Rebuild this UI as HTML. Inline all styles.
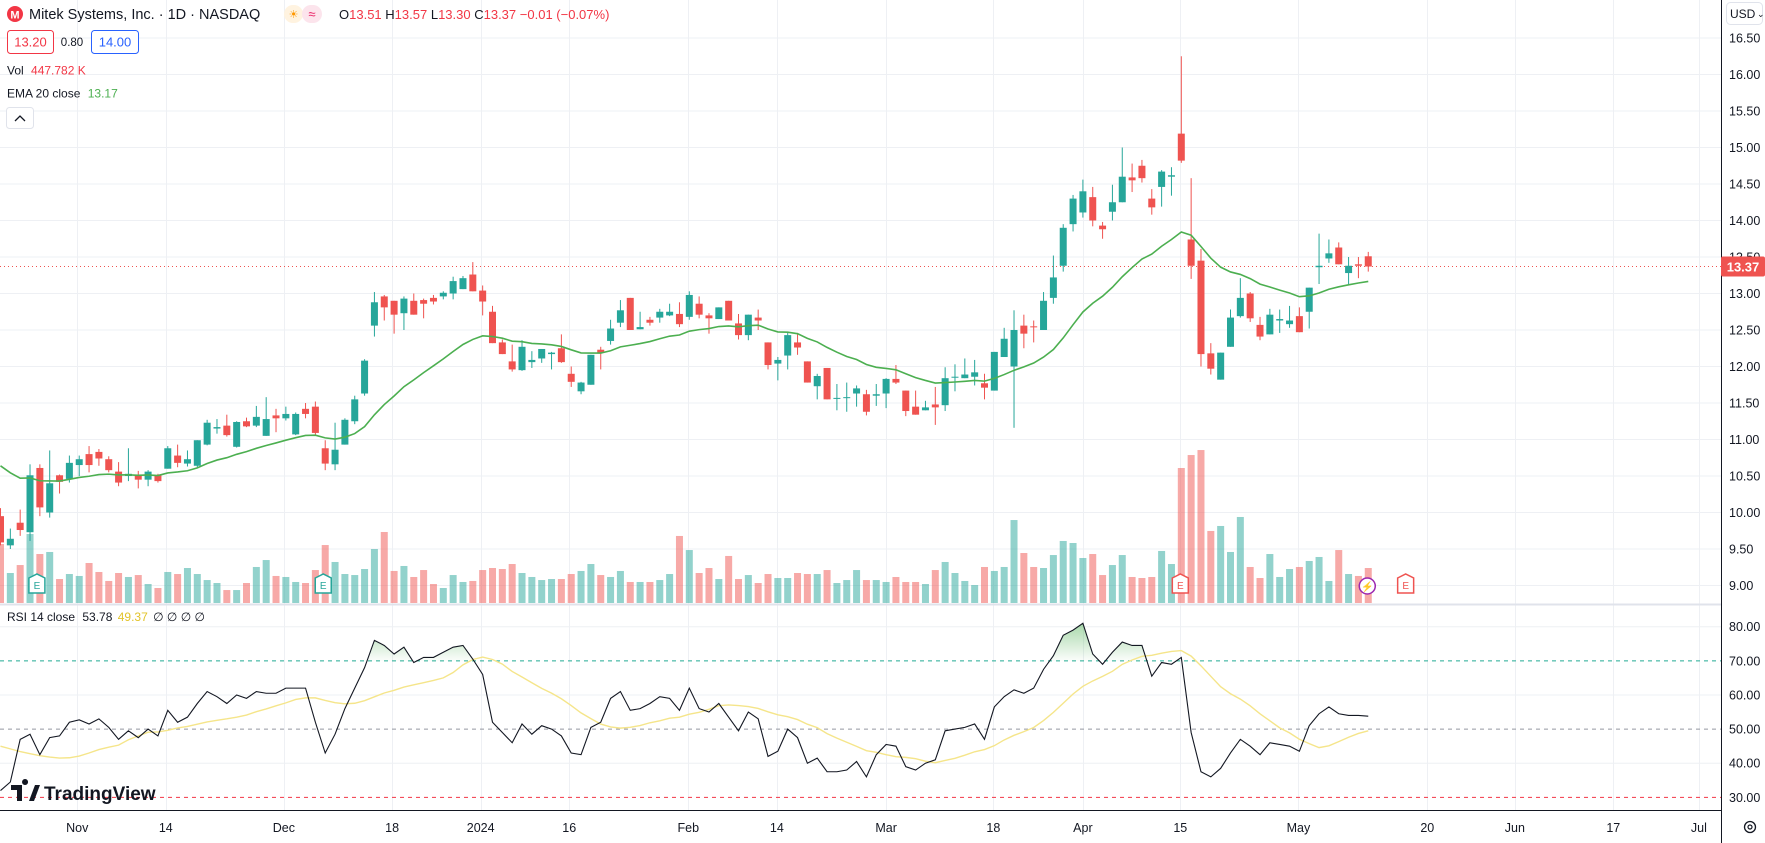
<!DOCTYPE html>
<html><head><meta charset="utf-8">
<style>
html,body{margin:0;padding:0;background:#fff;}
svg{display:block;font-family:"Liberation Sans",sans-serif;}
</style></head>
<body>
<svg id="chart" width="1765" height="843" viewBox="0 0 1765 843" xmlns="http://www.w3.org/2000/svg">
  <defs>
    <linearGradient id="obGrad" gradientUnits="userSpaceOnUse" x1="0" y1="626" x2="0" y2="661">
      <stop offset="0" stop-color="#4caf50" stop-opacity="0.45"/>
      <stop offset="1" stop-color="#4caf50" stop-opacity="0.02"/>
    </linearGradient>
  </defs>
  <rect x="0" y="0" width="1765" height="843" fill="#ffffff"/>
  <g id="grid"></g>
  <g id="volumeLayer"></g>
  <g id="candleLayer"></g>
  <g id="emaLayer"></g>
  <g id="rsiLayer"></g>
  <g id="axisLayer"></g>

  <g>
    <circle cx="15" cy="14" r="8" fill="#f23645"/>
    <text x="15" y="18.5" font-size="11" font-weight="bold" fill="#fff" text-anchor="middle">M</text>
    <text x="29" y="19" font-size="14.5" fill="#131722">Mitek Systems, Inc. · 1D · NASDAQ</text>
    <rect x="284" y="5" width="19" height="18" rx="9" fill="#fff3e0"/>
    <text x="293.5" y="18" font-size="11" fill="#ff9800" text-anchor="middle">☀</text>
    <rect x="302" y="5" width="20" height="18" rx="9" fill="#fce4ec"/>
    <text x="312" y="18.5" font-size="13" fill="#e91e63" text-anchor="middle">≈</text>
    <text x="339" y="19" font-size="13" fill="#131722">O<tspan fill="#f23645">13.51</tspan> H<tspan fill="#f23645">13.57</tspan> L<tspan fill="#f23645">13.30</tspan> C<tspan fill="#f23645">13.37</tspan> <tspan fill="#f23645">−0.01 (−0.07%)</tspan></text>
    <rect x="7.5" y="30.5" width="46" height="23" rx="3" fill="#fff" stroke="#f23645"/>
    <text x="30.5" y="46.5" font-size="13" fill="#f23645" text-anchor="middle">13.20</text>
    <text x="72" y="46" font-size="11.5" fill="#131722" text-anchor="middle">0.80</text>
    <rect x="91.5" y="30.5" width="47" height="23" rx="3" fill="#fff" stroke="#2962ff"/>
    <text x="115" y="46.5" font-size="13" fill="#2962ff" text-anchor="middle">14.00</text>
    <text x="7" y="74.5" font-size="12" fill="#131722">Vol <tspan fill="#f23645" dx="4">447.782 K</tspan></text>
    <text x="7" y="97.5" font-size="12" fill="#131722">EMA 20 close <tspan fill="#4caf50" dx="4">13.17</tspan></text>
    <rect x="6.5" y="107.5" width="27" height="21" rx="3" fill="#fff" stroke="#e0e3eb"/>
    <path d="M15 121 L20 116 L25 121" fill="none" stroke="#131722" stroke-width="1.3"/>
    <text x="7" y="621" font-size="12" fill="#131722">RSI 14 close <tspan dx="4">53.78</tspan> <tspan fill="#e2c32a" dx="2">49.37</tspan> <tspan dx="2">∅ ∅ ∅ ∅</tspan></text>
  </g>

  <g>
    <path d="M11 785 h11 v16 h-5 v-11 h-6z M25 785 a3 3 0 1 1 0.1 0z M29 801 l6 -16 h5 l-6 16z" fill="#131722"/>
    <text x="44" y="800" font-size="19" font-weight="bold" fill="#131722">TradingView</text>
  </g>

  <rect x="1726.5" y="2.5" width="36" height="22" rx="4" fill="#fff" stroke="#e0e3eb"/>
  <text x="1730" y="18" font-size="12" fill="#131722">USD</text>
  <text x="1757" y="17" font-size="9" fill="#131722">⌄</text>
  <g>
    <circle cx="1750" cy="827" r="5.5" fill="none" stroke="#131722" stroke-width="1.3"/>
    <circle cx="1750" cy="827" r="2" fill="none" stroke="#131722" stroke-width="1.2"/>
  </g>
</svg>
<script>
const opens=[9.95,9.55,9.86,9.73,10.61,10.0,10.51,10.46,10.65,10.8,10.83,10.73,10.56,10.5,10.51,10.45,10.51,10.6,10.78,10.67,10.64,10.93,11.15,11.19,10.9,11.25,11.19,11.05,11.33,11.29,11.07,11.42,11.45,10.88,10.66,10.93,11.25,11.63,12.56,12.96,12.9,12.73,12.9,12.91,12.94,12.96,13.0,13.06,13.26,13.04,12.75,12.33,12.07,11.95,12.06,12.11,12.17,12.25,11.9,11.66,11.75,12.23,12.35,12.6,12.94,12.51,12.64,12.67,12.7,12.72,12.68,12.86,12.7,12.65,12.9,12.59,12.43,12.67,12.33,12.04,12.15,12.33,12.07,11.73,11.98,11.56,11.57,11.63,11.62,11.6,11.63,11.83,11.67,11.45,11.4,11.48,11.47,11.85,11.84,11.86,11.77,11.67,12.13,12.0,12.56,12.55,12.5,12.94,13.38,13.95,14.11,14.32,13.93,14.12,14.25,14.59,14.75,14.3,14.46,14.6,15.19,13.74,13.45,12.18,11.82,12.27,12.69,13.0,12.57,12.44,12.63,12.58,12.69,12.75,13.36,13.48,13.63,13.28,13.4,13.51];
const highs=[10.06,9.78,10.04,10.66,10.66,10.85,10.52,10.78,10.78,10.91,10.87,10.77,10.69,10.88,10.57,10.58,10.53,10.91,10.93,10.85,10.99,11.27,11.28,11.34,11.25,11.3,11.46,11.58,11.42,11.45,11.37,11.5,11.52,10.99,11.23,11.29,11.6,12.1,13.02,12.98,12.9,12.96,13.0,12.93,12.98,13.03,13.23,13.24,13.43,13.11,12.83,12.37,12.3,12.36,12.21,12.24,12.2,12.44,12.0,11.79,12.16,12.27,12.64,12.91,12.94,12.75,12.68,12.79,12.86,12.88,13.03,12.96,12.73,12.81,12.9,12.72,12.71,12.78,12.33,12.13,12.46,12.46,12.07,11.9,11.98,11.76,11.78,11.74,11.68,11.76,11.84,12.02,11.67,11.67,11.53,11.72,11.99,12.03,12.11,12.09,11.9,12.2,12.53,12.77,12.71,12.63,13.02,13.52,13.95,14.35,14.56,14.46,13.98,14.49,15.0,14.78,14.83,14.43,14.69,14.73,16.25,14.58,13.61,12.32,12.19,12.78,13.21,13.02,12.68,12.79,12.78,12.83,12.81,13.08,13.82,13.74,13.7,13.5,13.5,13.57];
const lows=[9.55,9.5,9.68,9.61,9.95,9.93,10.26,10.41,10.5,10.55,10.64,10.55,10.36,10.43,10.33,10.36,10.41,10.6,10.62,10.63,10.62,10.92,11.08,11.04,10.89,11.17,11.17,11.05,11.1,11.26,11.06,11.29,11.06,10.58,10.58,10.93,11.21,11.6,12.41,12.63,12.45,12.5,12.71,12.66,12.85,12.92,12.92,13.06,13.03,12.7,12.32,12.17,11.93,11.94,11.98,12.05,11.96,12.05,11.72,11.62,11.75,11.96,12.3,12.54,12.5,12.51,12.56,12.6,12.69,12.54,12.64,12.66,12.45,12.65,12.63,12.37,12.36,12.5,11.96,11.81,11.96,12.16,11.78,11.55,11.55,11.4,11.38,11.45,11.33,11.46,11.43,11.76,11.32,11.34,11.4,11.2,11.39,11.66,11.84,11.74,11.55,11.67,12.13,11.16,12.25,12.33,12.5,12.86,13.3,13.85,14.04,13.92,13.75,14.0,14.25,14.39,14.52,14.08,14.19,14.34,14.79,13.2,12.0,11.89,11.82,12.27,12.67,12.61,12.36,12.44,12.46,12.53,12.47,12.52,13.13,13.42,13.4,13.13,13.21,13.30];
const closes=[9.59,9.64,9.76,10.51,10.07,10.4,10.42,10.68,10.73,10.65,10.74,10.58,10.41,10.53,10.45,10.56,10.43,10.88,10.68,10.73,10.99,11.23,11.17,11.06,11.24,11.18,11.31,11.28,11.29,11.35,11.35,11.35,11.09,10.67,10.86,11.27,11.55,12.08,12.88,12.81,12.71,12.93,12.71,12.86,12.89,13.01,13.17,13.21,13.03,12.89,12.32,12.17,11.96,12.27,12.09,12.24,12.19,12.06,11.79,11.78,12.16,12.19,12.52,12.77,12.5,12.54,12.6,12.75,12.75,12.58,12.98,12.71,12.66,12.81,12.63,12.43,12.71,12.63,12.02,12.09,12.43,12.26,11.78,11.87,11.55,11.57,11.58,11.7,11.38,11.62,11.83,11.78,11.39,11.34,11.44,11.44,11.84,11.86,11.89,11.92,11.71,12.2,12.38,12.5,12.45,12.54,12.9,13.22,13.9,14.3,14.4,14.0,13.88,14.25,14.6,14.55,14.58,14.18,14.67,14.62,14.82,13.38,12.17,11.97,12.19,12.67,12.94,12.66,12.41,12.71,12.65,12.63,12.47,13.08,13.38,13.55,13.4,13.38,13.38,13.37];
const volumesK=[755,384,486,883,627,653,307,371,346,512,397,282,384,333,358,243,192,397,371,448,371,294,256,166,166,256,461,550,346,333,269,256,422,742,525,371,358,435,691,909,410,474,333,422,243,192,358,269,282,422,448,435,499,384,333,294,307,307,371,410,499,358,333,410,269,269,269,294,371,858,678,384,448,307,602,307,358,256,371,320,320,384,371,371,422,256,294,422,294,294,269,333,269,269,243,422,525,384,282,230,461,410,461,1062,640,461,448,614,794,768,576,627,358,486,614,333,320,333,666,499,1728,1894,1958,922,986,653,1101,461,320,627,333,435,461,538,589,282,678,371,346,448];
const rsiValues=[32,34.5,47,48.5,42.5,47.5,48,52,52.7,51.5,53,50.5,47,49.5,47.5,50,48,55.5,52,53.5,57.5,61,59.5,57.5,60,59,61,60.5,60.5,62,62,62,52,43,48.5,56,62,68,76,74.5,72,74,69.5,71,71,72.5,74,74.5,70.5,66,52,49,46,51.5,48.5,51,50,48,43,42.5,50.5,52,59,61,55.5,56,57.5,59.5,59,55.5,62,56,55,57.5,53.5,49.5,55,53,42,43.5,50,47.5,40,41.5,37.5,37.5,38,40.5,36,42.5,45.5,45,39,38,40,41,49.5,50,50.5,51.5,47,56.5,59.5,61.5,60.5,62,67.5,71.5,77.5,79,81,72,69,72.5,75.5,74.5,74.5,65.5,69.5,69,71,49,37.5,36,38.5,43,47,45,42.5,46,45.5,45,43.5,51,54.5,56.5,54.5,54,54,53.78];
const rsiMaHead=[45,44.2,43.4,42.8,42.2,41.8,41.5,41.6,42.1,43,44,44.7,45.3];
const priceTicks=[16.5,16,15.5,15,14.5,14,13.5,13,12.5,12,11.5,11,10.5,10,9.5,9];
const rsiTicks=[80,70,60,50,40,30];
const timeLabels=["Nov","14","Dec","18","2024","16","Feb","14","Mar","18","Apr","15","May","20","Jun","17","Jul"];
const timeIdx=[7.8,16.8,28.8,39.8,48.8,57.8,69.9,78.9,90.0,100.9,110.0,119.9,131.9,145.0,153.9,163.9,172.6];
const earningsIdx=[3.7,32.8,119.9,142.8];
const earningsBeat=[true,true,false,false];
const dividendIdx=[138.9];
const lastPrice=13.37;
const emaSeed=10.75;

const NS="http://www.w3.org/2000/svg";
const PANE_R=1721, MAIN_B=603, RSI_B=810;
function xOf(i){return 0.5+i*9.84;}
function yP(p){return 38+(16.5-p)*73;}
function yV(v){return MAIN_B-v/12.8;}
function yR(r){return 626.7+(80-r)*3.413;}
function mk(tag,attrs,parent){const e=document.createElementNS(NS,tag);for(const k in attrs)e.setAttribute(k,attrs[k]);parent.appendChild(e);return e;}
const G=document.getElementById('grid'),VL=document.getElementById('volumeLayer'),CL=document.getElementById('candleLayer'),EL=document.getElementById('emaLayer'),RL=document.getElementById('rsiLayer'),AL=document.getElementById('axisLayer');
const UP="#26a69a",DN="#ef5350";

priceTicks.forEach(p=>{const l=mk('line',{x1:0,x2:PANE_R,y1:yP(p),y2:yP(p),stroke:'#eef0f4','stroke-width':1},G);

});
[80,60,40].forEach(r=>{const l=mk('line',{x1:0,x2:PANE_R,y1:yR(r),y2:yR(r),stroke:'#eef0f4','stroke-width':1},G);

});
timeIdx.forEach(t=>{const x=Math.round(xOf(t))+0.5;const l=mk('line',{x1:x,x2:x,y1:0,y2:RSI_B,stroke:'#eef0f4','stroke-width':1},G);

});

volumesK.forEach((v,i)=>{const up=closes[i]>=opens[i];const y=yV(v);
const r=mk('rect',{x:xOf(i)-3.5,y:y,width:7,height:MAIN_B-y,fill:up?'rgba(38,166,154,0.5)':'rgba(239,83,80,0.5)'},VL);

});

earningsIdx.forEach((t,k)=>{const x=xOf(t),c=earningsBeat[k]?'#26a69a':'#ef5350';
const g=mk('g',{},VL);


mk('path',{d:'M'+(x-8)+' 578 L'+x+' 574 L'+(x+8)+' 578 L'+(x+8)+' 593 L'+(x-8)+' 593 Z',fill:'#fff',stroke:c,'stroke-width':1.5},g);
const tx=mk('text',{x:x,y:589,'font-size':10,fill:c,'text-anchor':'middle'},g);tx.textContent='E';});
dividendIdx.forEach(t=>{const x=xOf(t);const g=mk('g',{},VL);


mk('circle',{cx:x,cy:586,r:8,fill:'#fff',stroke:'#9c27b0','stroke-width':1.5},g);
const tx=mk('text',{x:x,y:590,'font-size':10,fill:'#9c27b0','text-anchor':'middle'},g);tx.textContent='⚡';});

const lp=mk('line',{x1:0,x2:PANE_R,y1:yP(lastPrice),y2:yP(lastPrice),stroke:'#ef5350','stroke-width':1,'stroke-dasharray':'1 3'},CL);



closes.forEach((c,i)=>{const o=opens[i],up=c>=o,col=up?UP:DN,x=xOf(i);
const g=mk('g',{},CL);


mk('line',{x1:x,x2:x,y1:yP(highs[i]),y2:yP(lows[i]),stroke:col,'stroke-width':1},g);
const top=yP(Math.max(o,c)),bot=yP(Math.min(o,c));
mk('rect',{x:x-3.5,y:top,width:7,height:Math.max(1,bot-top),fill:col},g);});

let ema=[],prev=emaSeed;const a=2/21;
closes.forEach(c=>{prev=prev+a*(c-prev);ema.push(prev);});
const ep=mk('polyline',{points:ema.map((v,i)=>xOf(i)+','+yP(v)).join(' '),fill:'none',stroke:'#4caf50','stroke-width':1.6},EL);



const s1=mk('line',{x1:0,x2:PANE_R,y1:MAIN_B+1.5,y2:MAIN_B+1.5,stroke:'#e0e3eb','stroke-width':2},AL);



[[70,'#22ab94'],[50,'#9598a1'],[30,'#f23645']].forEach(([r,c])=>{const l=mk('line',{x1:0,x2:PANE_R,y1:yR(r),y2:yR(r),stroke:c,'stroke-width':1,'stroke-dasharray':'4 4'},RL);

});
let seg=[];
function flush(){if(seg.length<2){seg=[];return;}
const d='M'+seg[0][0]+' '+yR(70)+' '+seg.map(p=>'L'+p[0]+' '+p[1]).join(' ')+' L'+seg[seg.length-1][0]+' '+yR(70)+' Z';
const f=mk('path',{d:d,fill:'url(#obGrad)'},RL);

seg=[];}
for(let i=0;i<rsiValues.length;i++){const r=rsiValues[i];
if(r>70){if(!seg.length&&i>0){const r0=rsiValues[i-1];const t=(70-r0)/(r-r0);seg.push([xOf(i-1+t),yR(70)]);}seg.push([xOf(i),yR(r)]);}
else if(seg.length){const r0=rsiValues[i-1];const t=(r0-70)/(r0-r);seg.push([xOf(i-1+t),yR(70)]);flush();}}
flush();
const rsiMa=rsiValues.map((v,i)=>{if(i<13)return rsiMaHead[i];let s=0;for(let k=i-13;k<=i;k++)s+=rsiValues[k];return s/14;});
const mp=mk('polyline',{points:rsiMa.map((v,i)=>xOf(i)+','+yR(v)).join(' '),fill:'none',stroke:'#f5e58a','stroke-width':1.4},RL);


const rp=mk('polyline',{points:rsiValues.map((v,i)=>xOf(i)+','+yR(v)).join(' '),fill:'none',stroke:'#131722','stroke-width':1.1},RL);



const pa=mk('line',{x1:PANE_R+0.5,x2:PANE_R+0.5,y1:0,y2:843,stroke:'#131722','stroke-width':1},AL);


const ta=mk('line',{x1:0,x2:PANE_R,y1:RSI_B+0.5,y2:RSI_B+0.5,stroke:'#131722','stroke-width':1},AL);


priceTicks.forEach(p=>{const t=mk('text',{x:1729,y:yP(p)+4.5,'font-size':12.5,fill:'#131722'},AL);t.textContent=p.toFixed(2);

});
rsiTicks.forEach(r=>{const t=mk('text',{x:1729,y:yR(r)+4.5,'font-size':12.5,fill:'#131722'},AL);t.textContent=r.toFixed(2);

});
timeLabels.forEach((s,k)=>{const t=mk('text',{x:xOf(timeIdx[k]),y:832,'font-size':12.5,fill:'#131722','text-anchor':'middle'},AL);t.textContent=s;

});
const lb=mk('rect',{x:PANE_R,y:yP(lastPrice)-10,width:44,height:20,rx:2,fill:'#ef5350'},AL);


const lt=mk('text',{x:1743,y:yP(lastPrice)+5,'font-size':13,'font-weight':'bold',fill:'#fff','text-anchor':'middle'},AL);lt.textContent=lastPrice.toFixed(2);


</script>
</body></html>
